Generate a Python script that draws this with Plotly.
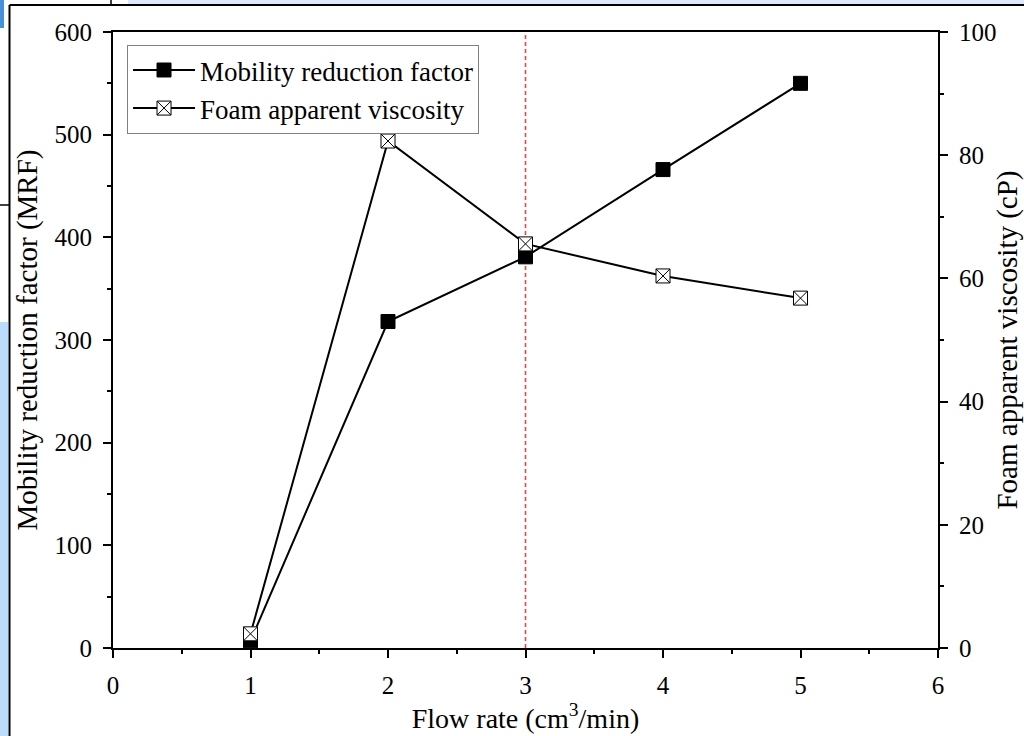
import plotly.graph_objects as go

# Flow rate (cm^3/min)
flow_rate = [1, 2, 3, 4, 5]
# Mobility reduction factor (left axis)
mrf = [7, 318, 381, 466, 550]
# Foam apparent viscosity in cP (right axis)
viscosity = [2.3, 82.3, 65.6, 60.4, 56.8]

FONT = "Liberation Serif, Times New Roman, serif"

fig = go.Figure()

fig.add_trace(go.Scatter(
    x=flow_rate, y=mrf, name="Mobility reduction factor",
    mode="lines+markers",
    line=dict(color="black", width=2),
    marker=dict(symbol="square", size=14, color="black",
                line=dict(color="black", width=1)),
))
fig.add_trace(go.Scatter(
    x=flow_rate, y=viscosity, name="Foam apparent viscosity",
    mode="lines+markers", yaxis="y2",
    line=dict(color="black", width=2),
    marker=dict(symbol="square-x", size=14, color="white",
                line=dict(color="black", width=1)),
))

# vertical reference line at 3 cm^3/min
fig.add_shape(type="line", xref="x", yref="paper", x0=3, x1=3, y0=0, y1=1,
              line=dict(color="#ee4444", width=1.6, dash="4px,3px"), layer="below")

# window frame around the figure
def px_x(p):
    return (p - 113) / 825

def px_y(p):
    return (648 - p) / 616

frame = [
    dict(type="rect", x0=px_x(0), x1=px_x(8), y0=px_y(736), y1=px_y(322),
         fillcolor="#bcdcfb", line=dict(width=0)),
    dict(type="rect", x0=px_x(0), x1=px_x(4), y0=px_y(28), y1=px_y(0),
         fillcolor="#4a90d9", line=dict(width=0)),
    dict(type="rect", x0=px_x(128), x1=px_x(1024), y0=px_y(4), y1=px_y(0),
         fillcolor="#dce9fb", line=dict(width=0)),
    dict(type="line", x0=px_x(9.5), x1=px_x(9.5), y0=px_y(736), y1=px_y(5),
         line=dict(color="black", width=2)),
    dict(type="line", x0=px_x(9.5), x1=px_x(1024), y0=px_y(5), y1=px_y(5),
         line=dict(color="black", width=2)),
    dict(type="line", x0=px_x(111), x1=px_x(111), y0=px_y(5), y1=px_y(0),
         line=dict(color="black", width=1.5)),
    dict(type="line", x0=px_x(0), x1=px_x(9), y0=px_y(205), y1=px_y(205),
         line=dict(color="black", width=1.5)),
]
for s in frame:
    fig.add_shape(xref="paper", yref="paper", **s)

axis_common = dict(
    showline=True, linecolor="black", linewidth=2,
    ticks="outside", ticklen=8, tickwidth=2, tickcolor="black",
    showgrid=False, zeroline=False, ticklabelstandoff=6, automargin=False,
    tickfont=dict(family=FONT, size=25, color="black"),
)

fig.update_layout(
    width=1024, height=736,
    margin=dict(l=113, r=86, t=32, b=88, autoexpand=False),
    paper_bgcolor="white", plot_bgcolor="white",
    font=dict(family=FONT, color="black"),
    xaxis=dict(
        range=[0, 6], dtick=1, mirror=True,
        minor=dict(dtick=0.5, ticks="outside", ticklen=4, tickwidth=2,
                   tickcolor="black"),
        title=dict(text="Flow rate (cm<sup>3</sup>/min)",
                   font=dict(family=FONT, size=28), standoff=4),
        **axis_common,
    ),
    yaxis=dict(
        range=[0, 600], dtick=100,
        minor=dict(dtick=50, ticks="outside", ticklen=4, tickwidth=2,
                   tickcolor="black"),
        title=dict(text="Mobility reduction factor (MRF)",
                   font=dict(family=FONT, size=29), standoff=8),
        **axis_common,
    ),
    yaxis2=dict(
        range=[0, 100], dtick=20, overlaying="y", side="right",
        minor=dict(dtick=10, ticks="outside", ticklen=4, tickwidth=2,
                   tickcolor="black"),
        title=dict(text="Foam apparent viscosity (cP)",
                   font=dict(family=FONT, size=29), standoff=8),
        **axis_common,
    ),
    legend=dict(
        x=0.017, y=0.979, xanchor="left", yanchor="top",
        bgcolor="white", bordercolor="#808080", borderwidth=1,
        font=dict(family=FONT, size=27, color="black"),
        tracegroupgap=0, itemwidth=62,
    ),
    showlegend=True,
)

fig.write_html("out.html")
